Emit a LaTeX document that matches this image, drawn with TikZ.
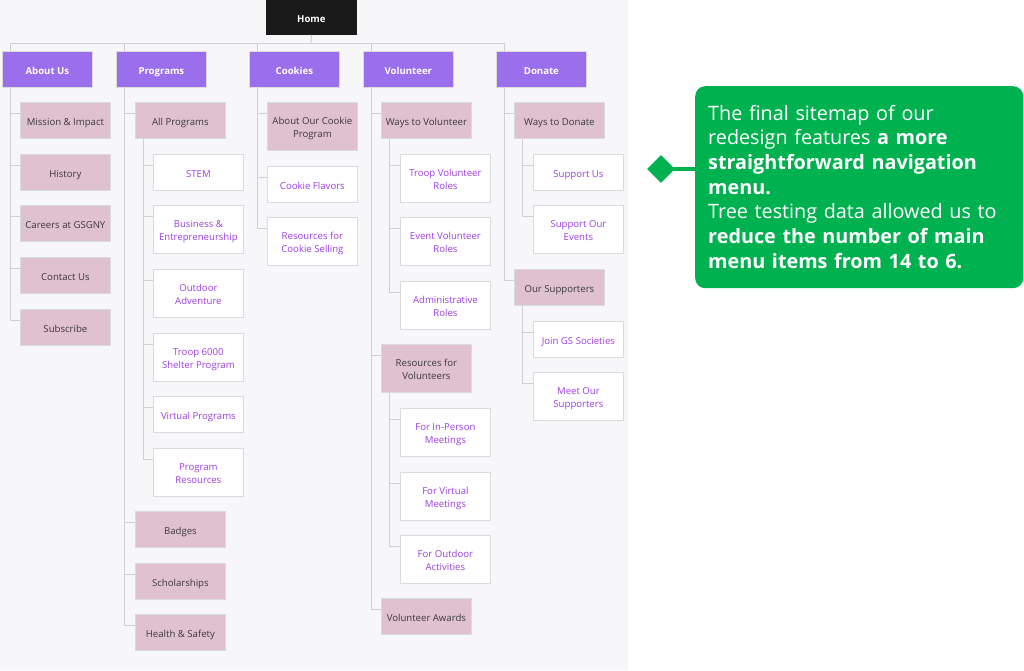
\documentclass[tikz,border=0pt]{standalone}
\usepackage{fontspec}
\usetikzlibrary{shapes.geometric}
\newfontfamily\boxfont{Open Sans}
\newfontfamily\callfont{Open Sans}
\definecolor{bgpanel}{HTML}{F7F7FA}
\definecolor{purp}{HTML}{9B6EEB}
\definecolor{pinkb}{HTML}{E0C1CF}
\definecolor{purtxt}{HTML}{9D3FE0}
\definecolor{darktxt}{HTML}{3A3A3A}
\definecolor{edgec}{HTML}{DADADF}
\definecolor{linec}{HTML}{CFCFD4}
\definecolor{greenc}{HTML}{00B14F}
\definecolor{homec}{HTML}{1A1A1A}
\tikzset{
  basebox/.style={anchor=north west, inner sep=0pt, minimum width=90pt, minimum height=36pt, align=center, draw=edgec, line width=0.8pt,
    text height=10.2pt, text depth=0.2pt,
    font=\boxfont\fontsize{9.6}{13.5}\selectfont},
  homebox/.style={basebox, fill=homec, draw=homec, text=white, font=\boxfont\bfseries\fontsize{9.6}{13.5}\selectfont},
  topbox/.style={basebox, fill=purp, text=white, font=\boxfont\bfseries\fontsize{9.6}{13.5}\selectfont},
  pinkbox/.style={basebox, fill=pinkb, text=darktxt},
  whitebox/.style={basebox, fill=white, text=purtxt},
  tall/.style={minimum height=48pt, text height=24.5pt, text depth=2pt},
  conn/.style={draw=linec, line width=1pt},
}
\newcommand{\kid}[2]{\draw[conn] ([xshift=8.5pt]#1.south west) |- ([yshift=-11pt]#2.north west);}
\begin{document}
\begin{tikzpicture}[x=1pt,y=-1pt]
\useasboundingbox (0,0) rectangle (1024,670);
\fill[bgpanel] (0,0) rectangle (628,670);

% Home and top level
\node[homebox, minimum height=34pt] (home) at (266,0) {Home};
\node[topbox] (about) at (2,51) {About Us};
\node[topbox] (prog) at (116,51) {Programs};
\node[topbox] (cook) at (249,51) {Cookies};
\node[topbox] (vol) at (363,51) {Volunteer};
\node[topbox] (don) at (496,51) {Donate};

% About Us
\node[pinkbox] (mis) at (20,102) {Mission \& Impact};
\node[pinkbox] (his) at (20,154) {History};
\node[pinkbox] (car) at (20,205) {Careers at GSGNY};
\node[pinkbox] (con) at (20,257) {Contact Us};
\node[pinkbox] (sub) at (20,309) {Subscribe};

% Programs
\node[pinkbox] (allp) at (135,102) {All Programs};
\node[whitebox] (stem) at (153,154) {STEM};
\node[whitebox,tall] (bus) at (153,205) {Business \&\\Entrepreneurship};
\node[whitebox,tall] (out) at (153,269) {Outdoor\\Adventure};
\node[whitebox,tall] (troop) at (153,333) {Troop 6000\\Shelter Program};
\node[whitebox] (virt) at (153,396) {Virtual Programs};
\node[whitebox,tall] (pres) at (153,448) {Program\\Resources};
\node[pinkbox] (badg) at (135,511) {Badges};
\node[pinkbox] (schol) at (135,563) {Scholarships};
\node[pinkbox] (hs) at (135,614) {Health \& Safety};

% Cookies
\node[pinkbox,tall] (acp) at (267,102) {About Our Cookie\\Program};
\node[whitebox] (cfl) at (267,166) {Cookie Flavors};
\node[whitebox,tall] (rcs) at (267,217) {Resources for\\Cookie Selling};

% Volunteer
\node[pinkbox] (wtv) at (381,102) {Ways to Volunteer};
\node[whitebox,tall] (tvr) at (400,154) {Troop Volunteer\\Roles};
\node[whitebox,tall] (evr) at (400,217) {Event Volunteer\\Roles};
\node[whitebox,tall] (adm) at (400,281) {Administrative\\Roles};
\node[pinkbox,tall] (rfv) at (381,344) {Resources for\\Volunteers};
\node[whitebox,tall] (inp) at (400,408) {For In-Person\\Meetings};
\node[whitebox,tall] (fvm) at (400,472) {For Virtual\\Meetings};
\node[whitebox,tall] (foa) at (400,535) {For Outdoor\\Activities};
\node[pinkbox] (vaw) at (381,598) {Volunteer Awards};

% Donate
\node[pinkbox] (wtd) at (514,102) {Ways to Donate};
\node[whitebox] (sup) at (533,154) {Support Us};
\node[whitebox,tall] (soe) at (533,205) {Support Our\\Events};
\node[pinkbox] (osu) at (514,269) {Our Supporters};
\node[whitebox] (jgs) at (533,321) {Join GS Societies};
\node[whitebox,tall] (mos) at (533,372) {Meet Our\\Supporters};

% connectors
\coordinate (bar) at (311,43);
\draw[conn] (home.south) -- (bar);
\foreach \c in {about,prog,cook,vol,don}{
  \draw[conn] (bar) -| ([xshift=8pt]\c.north west);
}
\foreach \c in {mis,his,car,con,sub}{\kid{about}{\c}}
\foreach \c in {allp,badg,schol,hs}{\kid{prog}{\c}}
\foreach \c in {stem,bus,out,troop,virt,pres}{\kid{allp}{\c}}
\foreach \c in {acp,cfl,rcs}{\kid{cook}{\c}}
\foreach \c in {wtv,rfv,vaw}{\kid{vol}{\c}}
\foreach \c in {tvr,evr,adm}{\kid{wtv}{\c}}
\foreach \c in {inp,fvm,foa}{\kid{rfv}{\c}}
\foreach \c in {wtd,osu}{\kid{don}{\c}}
\foreach \c in {sup,soe}{\kid{wtd}{\c}}
\foreach \c in {jgs,mos}{\kid{osu}{\c}}

% callout
\node[fill=greenc, rounded corners=10pt, anchor=north west, minimum width=328pt, minimum height=202pt, inner sep=0pt] (call) at (695,86) {};
\node[diamond, fill=greenc, minimum width=28pt, minimum height=28pt, inner sep=0pt] (dia) at (661,169) {};
\draw[greenc, line width=4pt] (dia.center) -- (call.west |- dia.center);
\node[anchor=base west, inner sep=0pt, text width=315pt, align=left, text=white,
  font=\callfont\fontsize{19.8}{24.7}\selectfont] (calltxt) at (708,120)
  {The final sitemap of our\\
   redesign features \textbf{a more}\\
   \textbf{straightforward navigation}\\
   \textbf{menu.}\\
   Tree testing data allowed us to\\
   \textbf{reduce the number of main}\\
   \textbf{menu items from 14 to 6.}};
\end{tikzpicture}
\end{document}
